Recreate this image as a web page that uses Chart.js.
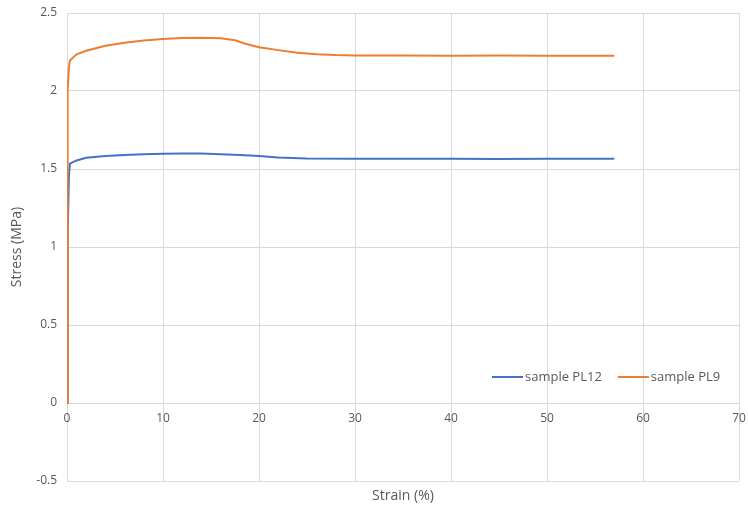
<!DOCTYPE html>
<html>
<head>
<meta charset="utf-8">
<script src="https://cdn.jsdelivr.net/npm/chart.js@4.4.0/dist/chart.umd.min.js"></script>
<style>
  html, body { margin: 0; padding: 0; background: #fff; }
  #wrap { width: 748px; height: 506px; }
</style>
</head>
<body>
<div id="wrap"><canvas id="myChart" width="748" height="506"></canvas></div>
<script>
// tensile curves, strain in %, stress in MPa
const seriesNames = ['sample PL12', 'sample PL9'];

const strainPL12 = [0, 0.05, 0.1, 0.2, 0.3, 1, 2, 4, 6, 8, 10, 12, 14, 16, 18, 20, 22, 25, 30, 35, 40, 45, 50, 55, 57];
const stressPL12 = [0, 0.6, 1.1, 1.45, 1.535, 1.555, 1.572, 1.583, 1.59, 1.595, 1.598, 1.6, 1.599, 1.595, 1.59, 1.583, 1.573, 1.567, 1.565, 1.565, 1.565, 1.564, 1.565, 1.565, 1.565];

const strainPL9 = [0, 0.03, 0.06, 0.1, 0.2, 0.3, 1, 2, 4, 6, 8, 10, 12, 14, 16, 17.5, 18.5, 20, 22, 24, 26, 28, 30, 35, 40, 45, 50, 55, 57];
const stressPL9 = [0, 0.8, 1.6, 2.0, 2.15, 2.195, 2.235, 2.258, 2.29, 2.31, 2.323, 2.333, 2.34, 2.342, 2.338, 2.325, 2.305, 2.28, 2.262, 2.245, 2.235, 2.23, 2.228, 2.227, 2.226, 2.227, 2.226, 2.226, 2.226];

const toPoints = (xs, ys) => xs.map((x, i) => ({ x: x, y: ys[i] }));

const textColor = '#595959';
const gridColor = '#d9d9d9';
const fontFamily = "'Open Sans', 'Liberation Sans', sans-serif";

// legend drawn inside the plot, lower right
const innerLegend = {
    id: 'innerLegend',
    afterDraw(chart) {
        const ctx = chart.ctx;
        const area = chart.chartArea;
        let x = area.right - 247;
        const y = area.top + 364;
        ctx.save();
        ctx.font = '13px ' + fontFamily;
        ctx.textBaseline = 'middle';
        chart.data.datasets.forEach(ds => {
            ctx.strokeStyle = ds.borderColor;
            ctx.lineWidth = 2;
            ctx.beginPath();
            ctx.moveTo(x, y);
            ctx.lineTo(x + 31, y);
            ctx.stroke();
            ctx.fillStyle = textColor;
            ctx.fillText(ds.label, x + 33, y);
            x += 33 + ctx.measureText(ds.label).width + 16;
        });
        ctx.restore();
    }
};

// drop the extra room Chart.js keeps for edge tick labels
const noEdgePadding = scale => {
    scale.paddingLeft = 0;
    scale.paddingRight = 0;
    scale.paddingTop = 0;
    scale.paddingBottom = 0;
};

const ctx = document.getElementById('myChart').getContext('2d');
const myChart = new Chart(ctx, {
    type: 'line',
    data: {
        datasets: [{
            label: seriesNames[0],
            data: toPoints(strainPL12, stressPL12),
            borderColor: '#4472C4',
            borderWidth: 2,
            pointRadius: 0,
            tension: 0,
            order: 1
        }, {
            label: seriesNames[1],
            data: toPoints(strainPL9, stressPL9),
            borderColor: '#ED7D31',
            borderWidth: 2,
            pointRadius: 0,
            tension: 0,
            order: 0
        }]
    },
    options: {
        responsive: false,
        animation: false,
        layout: { padding: { top: 13, right: 9, bottom: 0, left: 0 } },
        plugins: {
            legend: { display: false },
            tooltip: { enabled: false }
        },
        scales: {
            x: {
                type: 'linear',
                position: { y: 0 },
                min: 0,
                max: 70,
                ticks: { stepSize: 10, color: textColor, padding: 8, font: { family: fontFamily, size: 12 } },
                grid: { color: gridColor, drawTicks: false },
                border: { color: gridColor },
                afterFit: noEdgePadding
            },
            x2: {
                type: 'linear',
                position: 'bottom',
                min: 0,
                max: 70,
                ticks: { display: false },
                grid: { display: false, drawTicks: false },
                border: { display: false },
                title: { display: true, text: 'Strain (%)', color: textColor, padding: { top: 0, bottom: 2 }, font: { family: fontFamily, size: 14 } },
                afterFit(scale) { noEdgePadding(scale); scale.height = 25; }
            },
            y: {
                type: 'linear',
                min: -0.5,
                max: 2.5,
                ticks: {
                    stepSize: 0.5,
                    color: textColor,
                    padding: 10,
                    font: { family: fontFamily, size: 12 },
                    callback: value => String(value)
                },
                grid: { color: gridColor, drawTicks: false },
                border: { display: false },
                title: { display: true, text: 'Stress (MPa)', color: textColor, padding: { top: 9, bottom: 0 }, font: { family: fontFamily, size: 14 } },
                afterFit(scale) { noEdgePadding(scale); scale.width = 67; }
            }
        }
    },
    plugins: [innerLegend]
});
</script>
</body>
</html>
